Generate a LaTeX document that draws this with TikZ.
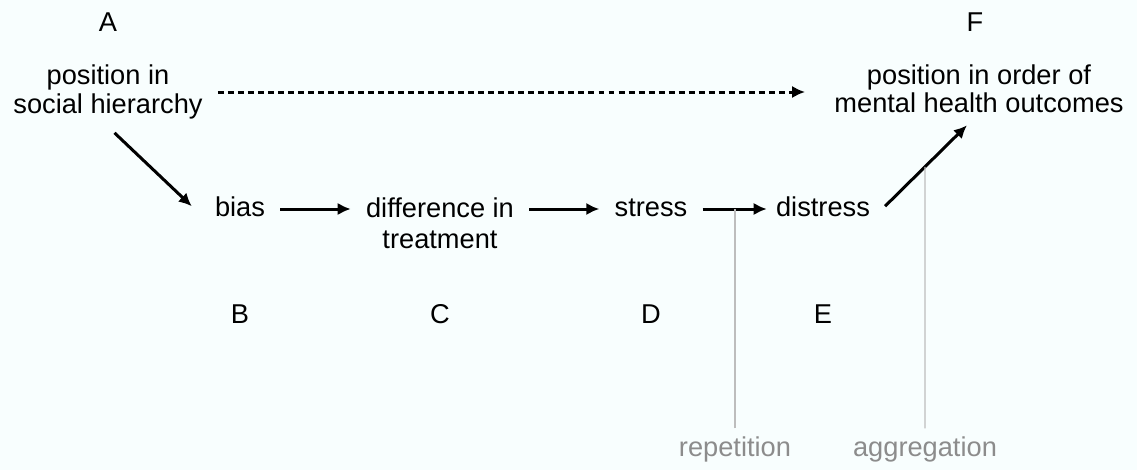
\documentclass[tikz,border=0pt]{standalone}
\usepackage{fontspec}
\setmainfont{Liberation Sans}
\usetikzlibrary{arrows.meta}
\newlength{\du}
\setlength{\du}{0.02cm}
\definecolor{notegray}{rgb}{0.550000, 0.550000, 0.550000}
\definecolor{guidegray}{rgb}{0.740000, 0.740000, 0.740000}
\definecolor{papercolor}{rgb}{0.973000, 0.996000, 0.996000}
\tikzset{
  tag/.style={inner sep=0pt, font=\fontsize{15.5}{16}\selectfont},
  word/.style={inner sep=0pt, text height=11pt, text depth=3pt, font=\fontsize{15.5}{16}\selectfont},
  block/.style={inner sep=0pt, align=center, font=\fontsize{15.5}{16}\selectfont},
  note/.style={word, text=notegray},
  link/.style={line width=3\du, -{Latex[length=7.4pt,width=7pt]}, shorten <=15\du, shorten >=15\du},
  guide/.style={draw=guidegray, line width=1.2\du},
}
\begin{document}
\begin{tikzpicture}
\pgftransformxscale{1.000000}
\pgftransformyscale{-1.000000}
\fill[papercolor] (0\du,0\du) rectangle (1137\du,470\du);
\useasboundingbox (0\du,0\du) rectangle (1137\du,470\du);
% letters
\node[tag] (tagA) at (108\du,22\du){A};
\node[tag] (tagB) at (240\du,314\du){B};
\node[tag] (tagC) at (440\du,314\du){C};
\node[tag] (tagD) at (651\du,314\du){D};
\node[tag] (tagE) at (823\du,314\du){E};
\node[tag] (tagF) at (975\du,22\du){F};
% steps
\node[block] (A) at (108\du,92\du){position in\\social hierarchy};
\node[block] (F) at (979\du,89\du){position in order of\\mental health outcomes};
\node[word] (bias) at (240\du,209\du){bias};
\node[block, font=\fontsize{15.5}{17.6}\selectfont] (diff) at (440\du,223\du){difference in\\treatment};
\node[word] (stress) at (651\du,209\du){stress};
\node[word] (distress) at (823\du,209\du){distress};
\node[note] (rep) at (735\du,449\du){repetition};
\node[note] (aggr) at (925\du,449\du){aggregation};
% arrows
\draw[link, dash pattern=on 3.4pt off 2.3pt, shorten >=29\du] (A.east) -- (F.west |- A.east);
\draw[link, shorten <=20\du, shorten >=4\du] ([xshift=-8\du]A.south) -- ([xshift=-20\du]bias.west);
\draw[link] (bias.east) -- (diff.west |- bias.east);
\draw[link] (diff.east |- stress.west) -- (stress.west);
\draw[link, shorten >=9\du] (stress.east) -- (distress.west);
\coordinate (dstart) at ([xshift=12\du]distress.east);
\draw[link, shorten <=4\du, shorten >=17\du] (dstart) -- (F.south);
% gray guides
\draw[guide, shorten <=8\du] (rep.north) -- (rep.north |- stress.east);
\draw[guide, shorten <=8\du] (aggr.north) -- (intersection of dstart--F.south and aggr.north--aggr.south);
\end{tikzpicture}
\end{document}
